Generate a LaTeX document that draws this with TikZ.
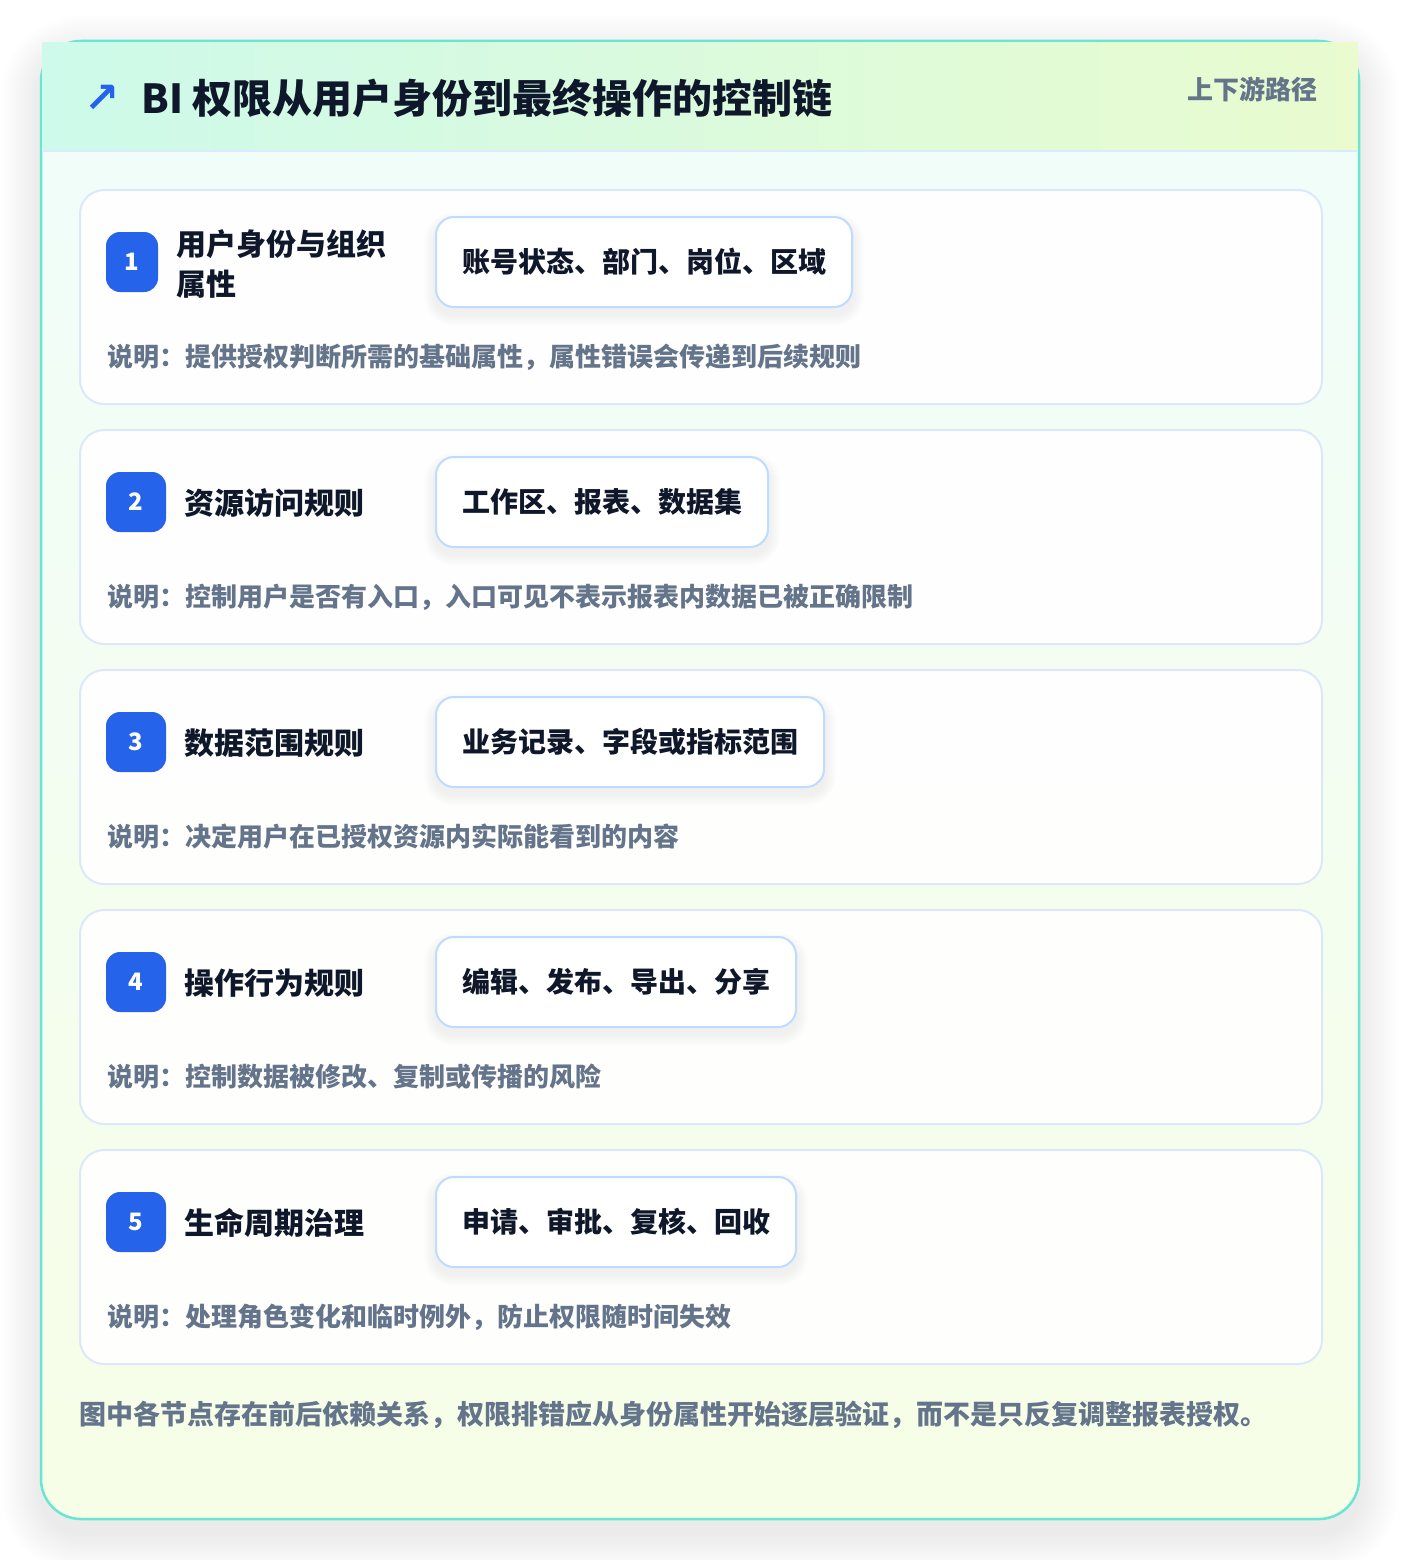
\documentclass[tikz,border=0pt]{standalone}
\usepackage{fontspec}
\setmainfont{Noto Sans CJK SC}
\newfontfamily\symfont{DejaVu Sans}
\definecolor{cTeal}{HTML}{67E6D2}
\definecolor{cMint}{HTML}{CDFAEA}
\definecolor{cLime}{HTML}{E9FBCF}
\definecolor{cBodyTop}{HTML}{F0FDFA}
\definecolor{cBodyBot}{HTML}{F7FEE7}
\definecolor{cCardBorder}{HTML}{DCE8FA}
\definecolor{cTagBorder}{HTML}{BFDBFE}
\definecolor{cBadge}{HTML}{2563EB}
\definecolor{cDark}{HTML}{0F172A}
\definecolor{cGray}{HTML}{64748B}
\definecolor{cHeadLine}{HTML}{DBEAFE}
\definecolor{cShade}{HTML}{1E293B}
\tikzset{
  card/.style={draw=cCardBorder, line width=2pt, fill=white, fill opacity=0.93,
    rounded corners=24pt, minimum width=1242pt, minimum height=214pt,
    anchor=north west, inner sep=0pt},
  badge/.style={fill=cBadge, rounded corners=14pt, minimum width=60pt,
    minimum height=60pt, text=white, inner sep=0pt,
    font=\bfseries\fontsize{24}{24}\selectfont},
  stitle/.style={anchor=west, text=cDark, inner sep=0pt, align=left,
    font=\bfseries\fontsize{30}{40}\selectfont},
  tagbox/.style={draw=cTagBorder, line width=2pt, fill=white, rounded corners=18pt,
    minimum height=90pt, inner xsep=26pt, anchor=west, text=cDark,
    font=\bfseries\fontsize{28}{28}\selectfont},
  desc/.style={anchor=west, text=cGray, inner sep=0pt,
    font=\bfseries\fontsize{26}{30}\selectfont}
}
\begin{document}
\begin{tikzpicture}[x=1pt,y=-1pt]
\fill[white] (0,0) rectangle (1400,1560);
\useasboundingbox (0,0) rectangle (1400,1560);
% outer card soft shadow
\foreach \k in {1,...,20}{
  \fill[cShade, opacity=0.0038, rounded corners={40pt+2*\k pt}]
    ({41-2*\k},{41-2*\k+14}) rectangle ({1359+2*\k},{1519+2*\k+14});
}
% body
\shade[rounded corners=40pt, top color=cBodyTop, bottom color=cBodyBot] (41,41) rectangle (1359,1519);
\draw[cTeal, line width=2.5pt, rounded corners=40pt] (41,41) rectangle (1359,1519);
% header
\shade[left color=cMint, right color=cLime] (42.4,43) rectangle (1357.6,150);
\draw[cHeadLine, line width=2pt] (42.4,151) -- (1357.6,151);
\node[text=cBadge, inner sep=0pt, font=\symfont\bfseries\fontsize{42}{42}\selectfont] (icon) at (102,99) {↗};
\node[anchor=west, text=cDark, inner sep=0pt, font=\bfseries\fontsize{40}{46}\selectfont] (title) at (141,98) {BI 权限从用户身份到最终操作的控制链};
\node[anchor=east, text=cGray, inner sep=0pt, font=\bfseries\fontsize{26}{30}\selectfont] (sub) at (1318,89) {上下游路径};
% cards
\node[card] (card1) at (79,189) {};
\node[card] (card2) at (79,429) {};
\node[card] (card3) at (79,669) {};
\node[card] (card4) at (79,909) {};
\node[card] (card5) at (79,1149) {};
% tag shadows
\foreach \k/\w in {0/418,1/334,2/390,3/362,4/362}{
  \foreach \j in {1,...,7}{
    \fill[cShade, opacity=0.006, rounded corners={18pt+1.6*\j pt}]
      ({435-1.6*\j},{217+240*\k-1.6*\j+7}) rectangle ({435+\w+1.6*\j},{307+240*\k+1.6*\j+7});
  }
}
% card 1
\node[badge, minimum width=52pt] (b1) at (132,262) {1};
\node[stitle] (t1) at (176,264) {用户身份与组织\\属性};
\node[tagbox] (g1) at (435,262) {账号状态、部门、岗位、区域};
\node[desc] (d1) at (107,357) {说明：提供授权判断所需的基础属性，属性错误会传递到后续规则};
% card 2
\node[badge] (b2) at (136,502) {2};
\node[stitle] (t2) at (184,503) {资源访问规则};
\node[tagbox] (g2) at (435,502) {工作区、报表、数据集};
\node[desc] (d2) at (107,597) {说明：控制用户是否有入口，入口可见不表示报表内数据已被正确限制};
% card 3
\node[badge] (b3) at (136,742) {3};
\node[stitle] (t3) at (184,743) {数据范围规则};
\node[tagbox] (g3) at (435,742) {业务记录、字段或指标范围};
\node[desc] (d3) at (107,837) {说明：决定用户在已授权资源内实际能看到的内容};
% card 4
\node[badge] (b4) at (136,982) {4};
\node[stitle] (t4) at (184,983) {操作行为规则};
\node[tagbox] (g4) at (435,982) {编辑、发布、导出、分享};
\node[desc] (d4) at (107,1077) {说明：控制数据被修改、复制或传播的风险};
% card 5
\node[badge] (b5) at (136,1222) {5};
\node[stitle] (t5) at (184,1223) {生命周期治理};
\node[tagbox] (g5) at (435,1222) {申请、审批、复核、回收};
\node[desc] (d5) at (107,1317) {说明：处理角色变化和临时例外，防止权限随时间失效};
% footer
\node[anchor=west, text=cGray, inner sep=0pt, font=\bfseries\fontsize{27}{32}\selectfont] (foot) at (79,1415) {图中各节点存在前后依赖关系，权限排错应从身份属性开始逐层验证，而不是只反复调整报表授权。};
\end{tikzpicture}
\end{document}
